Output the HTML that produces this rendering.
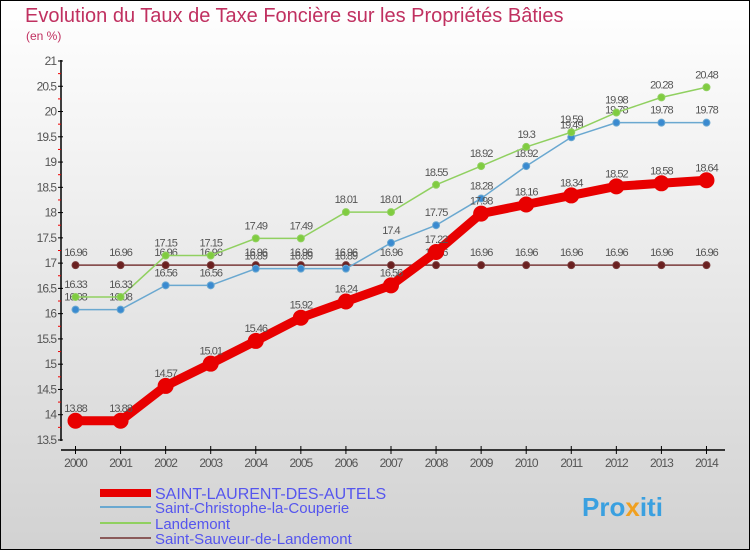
<!DOCTYPE html>
<html><head><meta charset="utf-8"><style>
body{margin:0;width:750px;height:550px;overflow:hidden;font-family:"Liberation Sans",sans-serif}
svg{display:block}
</style></head><body>
<svg id="c" width="750" height="550" xmlns="http://www.w3.org/2000/svg">
<defs><linearGradient id="bg" x1="0" y1="0" x2="0" y2="1"><stop offset="0" stop-color="#ffffff"/><stop offset="1" stop-color="#d2d2d2"/></linearGradient></defs>
<rect x="0.5" y="0.5" width="749" height="549" fill="url(#bg)" stroke="#000"/>
<text x="25" y="22" font-size="20" fill="#c03060">Evolution du Taux de Taxe Foncière sur les Propriétés Bâties</text>
<text x="26" y="40" font-size="12" fill="#c03060">(en %)</text>
<g id="axes"></g><g id="series"></g><g id="legend"></g>
<text x="582" y="516" font-size="26" font-weight="bold" fill="#3aa0e0">Pro<tspan fill="#f0a020">x</tspan>iti</text>
</svg>
<script>
const years=[2000,2001,2002,2003,2004,2005,2006,2007,2008,2009,2010,2011,2012,2013,2014];
const yTicks=[13.5,14,14.5,15,15.5,16,16.5,17,17.5,18,18.5,19,19.5,20,20.5,21];
const stLaurent=[13.88,13.88,14.57,15.01,15.46,15.92,16.24,16.56,17.22,17.98,18.16,18.34,18.52,18.58,18.64];
const stChristophe=[16.08,16.08,16.56,16.56,16.89,16.89,16.89,17.4,17.75,18.28,18.92,19.49,19.78,19.78,19.78];
const landemont=[16.33,16.33,17.15,17.15,17.49,17.49,18.01,18.01,18.55,18.92,19.3,19.59,19.98,20.28,20.48];
const stSauveur=[16.96,16.96,16.96,16.96,16.96,16.96,16.96,16.96,16.96,16.96,16.96,16.96,16.96,16.96,16.96];
const NS="http://www.w3.org/2000/svg";
const X=i=>75.5+i*45.07;
const Y=v=>61+(21-v)*50.53;
function mk(p,t,a){const e=document.createElementNS(NS,t);for(const k in a)e.setAttribute(k,a[k]);p.appendChild(e);return e;}
const ax=document.getElementById('axes');
let yl=mk(ax,'line',{x1:61,y1:60,x2:61,y2:441,stroke:'#000','stroke-width':1.5});


let xl=mk(ax,'line',{x1:61,y1:450,x2:725,y2:450,stroke:'#000','stroke-width':1.5});


yTicks.forEach(v=>{
 mk(ax,'line',{x1:58,y1:Y(v),x2:63,y2:Y(v),stroke:'#000'});
 if(v<21){mk(ax,'line',{x1:58,y1:Y(v+0.25),x2:61,y2:Y(v+0.25),stroke:'#e00'});}
 const t=mk(ax,'text',{x:56,y:Y(v)+4,'font-size':12,'text-anchor':'end',fill:'#555','letter-spacing':'-1'});
 t.textContent=String(v);
 
 
});
years.forEach((yr,i)=>{
 mk(ax,'line',{x1:X(i),y1:446,x2:X(i),y2:454,stroke:'#000'});
 const t=mk(ax,'text',{x:X(i),y:467,'font-size':12,'text-anchor':'middle',fill:'#555','letter-spacing':'-1'});
 t.textContent=yr;
 
 
});
const sg=document.getElementById('series');
function series(data,color,w,r,name,fill){
 const g=mk(sg,'g',{});
 
 
 mk(g,'polyline',{points:data.map((v,i)=>X(i)+','+Y(v)).join(' '),fill:'none',stroke:color,'stroke-width':w,'stroke-linejoin':'round'});
 data.forEach((v,i)=>{
  const c=mk(g,'circle',{cx:X(i),cy:Y(v),r:r,fill:fill,stroke:color,'stroke-width':1});
  
  
  const t=mk(g,'text',{x:X(i),y:Y(v)-9,'font-size':11,'text-anchor':'middle',fill:'#555','letter-spacing':'-1'});
  t.textContent=String(v);
  
  
 });
}
series(stSauveur,'#7a3a3a',1.5,3.5,'saint-sauveur-series','#6a2020');
series(stChristophe,'#6aa8d0',1.5,3.5,'saint-christophe-series','#3a8ad0');
series(landemont,'#90d060',1.5,3.5,'landemont-series','#80cc40');
series(stLaurent,'#e80000',9,7.5,'saint-laurent-series','#e80000');
const lg=document.getElementById('legend');
const items=[['SAINT-LAURENT-DES-AUTELS','#e80000',8,493,16],['Saint-Christophe-la-Couperie','#6aa8d0',2,507,15],['Landemont','#90d060',2,523,15],['Saint-Sauveur-de-Landemont','#8a5a5a',2,538,15]];
items.forEach(it=>{
 const g=mk(lg,'g',{});
 
 
 mk(g,'line',{x1:100,y1:it[3],x2:151,y2:it[3],stroke:it[1],'stroke-width':it[2]});
 const t=mk(g,'text',{x:155,y:it[3]+6,'font-size':it[4],fill:'#5555ee'});
 t.textContent=it[0];
});
</script>
</body></html>
